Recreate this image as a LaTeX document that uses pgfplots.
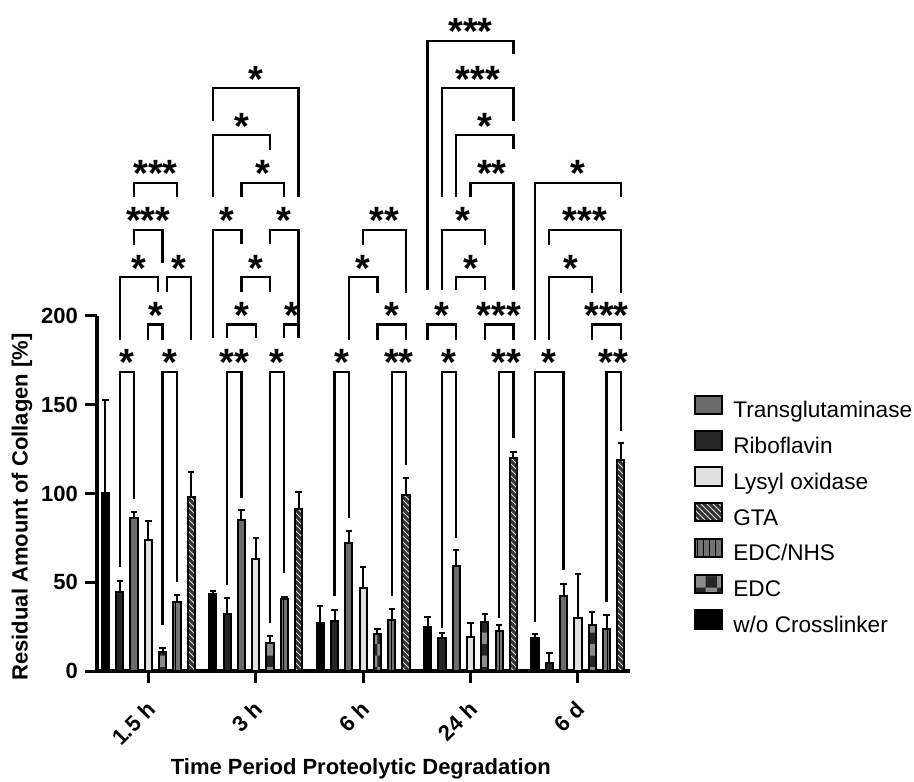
\documentclass[border=0pt]{standalone}
\usepackage{fontspec}
\setmainfont{Liberation Sans}
\usepackage{pgfplots}
\pgfplotsset{compat=1.18}
\usetikzlibrary{patterns}

% bar styles, in the order the bars stand in each group
\pgfplotsset{
  sA/.style={fill=black},
  sB/.style={fill=black!85},
  sC/.style={fill=black!58},
  sD/.style={fill=black!12},
  sE/.style={fill=black!85, postaction={pattern=checkerboard, pattern color=black!45}},
  sF/.style={fill=black!55, postaction={pattern=vertical lines, pattern color=black}},
  sG/.style={fill=black!80, postaction={pattern=north west lines, pattern color=black!15}},
  barplot/.style={draw=black, line width=1pt, forget plot, bar shift=#1,
    error bars/y dir=plus, error bars/y explicit,
    error bars/error bar style={line width=1pt, black},
    error bars/error mark options={rotate=90, mark size=1.6pt, line width=1pt, black}},
  legbox/.style={legend image code/.code={\draw[##1, line width=1pt] (0pt,-1pt) rectangle (13.5pt,8.2pt);}},
}

% significance bracket: group, bar i, bar j, level, left leg end, right leg end, stars
\newcommand{\brk}[7]{%
  \pgfmathsetmacro{\xa}{#1+(#2-4)*0.1331}%
  \pgfmathsetmacro{\xb}{#1+(#3-4)*0.1331}%
  \pgfmathsetmacro{\xm}{(\xa+\xb)/2}%
  \edef\tmp{\noexpand\draw[line width=1.15pt] (axis cs:\xa,#5) -- (axis cs:\xa,#4) -- (axis cs:\xb,#4) -- (axis cs:\xb,#6);
    \noexpand\node[stars] at (axis cs:\xm,#4) {#7};}%
  \tmp}

\tikzset{stars/.style={font=\fontsize{19}{19}\selectfont\bfseries, anchor=base, inner sep=0pt, yshift=-2pt}}

\begin{document}
\begin{tikzpicture}
\path[use as bounding box] (-48.5pt,-55pt) rectangle (408.5pt,335.5pt);
\begin{axis}[
  at={(0pt,0pt)}, anchor=south west, scale only axis,
  width=266.5pt, height=177.5pt,
  xmin=-0.478, xmax=4.485, ymin=0, ymax=200,
  clip=false,
  axis x line=bottom, axis y line=left,
  axis line style={-, line width=1.6pt},
  ybar, bar width=3.6pt,
  xtick={0,1,2,3,4}, xticklabels={1.5 h,3 h,6 h,24 h,6 d},
  ytick={0,50,100,150,200},
  tick align=outside, major tick length=6pt,
  tick style={line width=1.5pt, black},
  ticklabel style={font=\fontsize{11}{13}\selectfont\bfseries},
  x tick label style={xshift=-1.5pt, yshift=-3.5pt, rotate=45, anchor=north east},
  /pgf/number format/assume math mode=true,
  xlabel={Time Period Proteolytic Degradation},
  ylabel={Residual Amount of Collagen [\%]},
  label style={font=\fontsize{11}{13}\selectfont\bfseries},
  xlabel style={at={(axis description cs:0.495,-0.275)}, anchor=center},
  ylabel style={at={(axis description cs:-0.1407,0.462)}, anchor=center},
  legend style={at={(axis description cs:1.12,0.78)}, anchor=north west,
    draw=none, fill=none, inner sep=0pt, row sep=4.3pt,
    font=\fontsize{11.3}{13}\selectfont,
    nodes={inner sep=0pt, text height=7.8pt, text depth=2pt},
    /tikz/every odd column/.append style={column sep=5pt}},
  legend cell align=left,
]
\addlegendimage{legbox, sC}
\addlegendentry{Transglutaminase}
\addlegendimage{legbox, sB}
\addlegendentry{Riboflavin}
\addlegendimage{legbox, sD}
\addlegendentry{Lysyl oxidase}
\addlegendimage{legbox, sG}
\addlegendentry{GTA}
\addlegendimage{legbox, sF}
\addlegendentry{EDC/NHS}
\addlegendimage{legbox, sE}
\addlegendentry{EDC}
\addlegendimage{legbox, sA}
\addlegendentry{w/o Crosslinker}

% w/o Crosslinker
\addplot[barplot=-21.441pt, sA] coordinates {(0,100.4) +- (0,52) (1,43.4) +- (0,1.5) (2,26.8) +- (0,10) (3,24.9) +- (0,5.7) (4,18.5) +- (0,2.3)};
% Riboflavin
\addplot[barplot=-14.294pt, sB] coordinates {(0,44.5) +- (0,6) (1,32.2) +- (0,9) (2,27.9) +- (0,6.5) (3,18.5) +- (0,3) (4,4.7) +- (0,5.7)};
% Transglutaminase
\addplot[barplot=-7.147pt, sC] coordinates {(0,86) +- (0,3.5) (1,85) +- (0,5.7) (2,72) +- (0,7) (3,58.9) +- (0,9.5) (4,42.5) +- (0,6.6)};
% Lysyl oxidase
\addplot[barplot=0pt, sD] coordinates {(0,73.6) +- (0,11) (1,63.2) +- (0,12) (2,46.8) +- (0,11.7) (3,19.3) +- (0,8) (4,29.8) +- (0,25)};
% EDC
\addplot[barplot=7.147pt, sE] coordinates {(0,10.5) +- (0,2.3) (1,15.8) +- (0,4) (2,20.8) +- (0,3) (3,27.4) +- (0,4.7) (4,26) +- (0,7.5)};
% EDC/NHS
\addplot[barplot=14.294pt, sF] coordinates {(0,38.7) +- (0,4.3) (1,40.8) +- (0,1) (2,28.7) +- (0,6) (3,22.6) +- (0,3.4) (4,23.6) +- (0,8)};
% GTA
\addplot[barplot=21.441pt, sG] coordinates {(0,98.2) +- (0,14) (1,91) +- (0,10) (2,99) +- (0,9.5) (3,119.8) +- (0,3.7) (4,118.9) +- (0,9.5)};

% 1.5 h
\brk{0}{3}{6}{275.1}{267.2}{267.2}{***}
\brk{0}{3}{5}{248.5}{240}{229.7}{***}
\brk{0}{2}{4.7}{221.8}{186.5}{213.7}{*}
\brk{0}{5.3}{7}{221.8}{213.7}{186.5}{*}
\brk{0}{4}{5}{195.2}{186.5}{186.5}{*}
\brk{0}{2}{3}{168.5}{58.8}{96.7}{*}
\brk{0}{5}{6}{168.5}{25.9}{50.3}{*}
% 3 h
\brk{1}{1}{7}{328.4}{310}{267.2}{*}
\brk{1}{1}{5}{301.8}{267.2}{293.5}{*}
\brk{1}{3}{6}{275.1}{267.2}{267.2}{*}
\brk{1}{1}{3}{248.5}{187.4}{240.6}{*}
\brk{1}{5}{7}{248.5}{240.6}{187.4}{*}
\brk{1}{3}{5}{221.8}{213.7}{213.7}{*}
\brk{1}{2}{4}{195.2}{187.4}{187.4}{*}
\brk{1}{6}{7}{195.2}{187.4}{187.4}{*}
\brk{1}{2}{3}{168.5}{48.5}{97.3}{**}
\brk{1}{5}{6}{168.5}{26.9}{55}{*}
% 6 h
\brk{2}{4}{7}{248.5}{240}{213.1}{**}
\brk{2}{3}{5}{221.8}{186.5}{213.1}{*}
\brk{2}{5}{7}{195.2}{186.5}{186.5}{*}
\brk{2}{2}{3}{168.5}{42.3}{86}{*}
\brk{2}{6}{7}{168.5}{42.3}{116}{**}
% 24 h
\brk{3}{1}{7}{355.1}{214.6}{347.6}{***}
\brk{3}{2}{7}{328.4}{267.2}{310}{***}
\brk{3}{3}{7}{301.8}{267.2}{293.9}{*}
\brk{3}{4}{7}{275.1}{267.2}{214.6}{**}
\brk{3}{2}{5}{248.5}{214.6}{240}{*}
\brk{3}{3}{5}{221.8}{214.6}{214.6}{*}
\brk{3}{1}{3}{195.2}{186.5}{186.5}{*}
\brk{3}{5}{7}{195.2}{186.5}{186.5}{***}
\brk{3}{2}{3}{168.5}{24}{75.1}{*}
\brk{3}{6}{7}{168.5}{29.7}{131.1}{**}
% 6 d
\brk{4}{1}{7}{275.1}{186.5}{267.2}{*}
\brk{4}{2}{7}{248.5}{240}{213.1}{***}
\brk{4}{2}{5}{221.8}{186.5}{213.1}{*}
\brk{4}{5}{7}{195.2}{186.5}{186.5}{***}
\brk{4}{1}{3}{168.5}{27.8}{56.9}{*}
\brk{4}{6}{7}{168.5}{39}{135.4}{**}
\end{axis}
\end{tikzpicture}
\end{document}
